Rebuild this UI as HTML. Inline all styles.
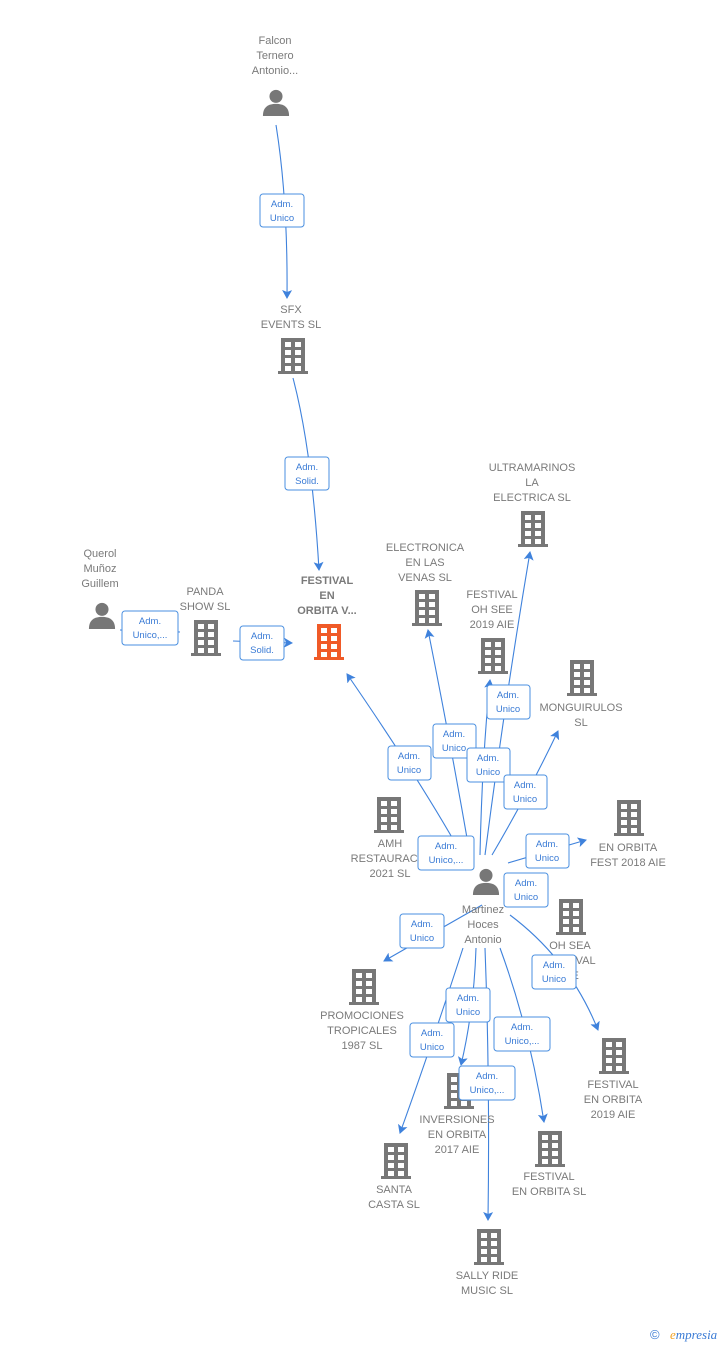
<!DOCTYPE html>
<html><head><meta charset="utf-8"><style>
html,body{margin:0;padding:0;background:#fff}
svg{display:block}
.n{font-family:"Liberation Sans",sans-serif;font-size:11px;fill:#7a7a7a;text-anchor:middle}
.b{font-weight:bold}
.l{font-family:"Liberation Sans",sans-serif;font-size:9.5px;fill:#3a7bd5;text-anchor:middle}
.e{fill:none;stroke:#3f82dc;stroke-width:1.1}
.r{fill:#fff;stroke:#4a8fe0;stroke-width:1}
</style></head><body>
<svg width="728" height="1345" viewBox="0 0 728 1345" xmlns="http://www.w3.org/2000/svg">
<defs>
<marker id="a" markerWidth="10" markerHeight="10" refX="8" refY="5" orient="auto" markerUnits="userSpaceOnUse"><path d="M0,0 L9,5 L0,10 L2,5 Z" fill="#3f82dc"/></marker>
<symbol id="bd" viewBox="0 0 30 36"><rect x="0" y="33" width="30" height="3"/><rect x="3" y="0" width="24" height="34"/><g fill="#fff"><rect x="7" y="4" width="6" height="5"/><rect x="17" y="4" width="6" height="5"/><rect x="7" y="12" width="6" height="5"/><rect x="17" y="12" width="6" height="5"/><rect x="7" y="20" width="6" height="5"/><rect x="17" y="20" width="6" height="5"/><rect x="7" y="28" width="6" height="5"/><rect x="17" y="28" width="6" height="5"/></g></symbol>
<symbol id="ps" viewBox="0 0 30 30"><circle cx="15" cy="9" r="7"/><path d="M1,30 C1,20 7,17 15,17 C23,17 29,20 29,30 Z"/></symbol>
</defs>

<!-- edges -->
<path class="e" marker-end="url(#a)" d="M276,125 Q288,200 287,298"/>
<path class="e" marker-end="url(#a)" d="M293,378 Q312,450 319,570"/>
<path class="e" d="M120,630 L180,632"/>
<path class="e" marker-end="url(#a)" d="M233,641 L292,643"/>
<path class="e" marker-end="url(#a)" d="M462,855 Q420,780 347,674"/>
<path class="e" marker-end="url(#a)" d="M470,855 Q450,740 428,630"/>
<path class="e" marker-end="url(#a)" d="M480,855 Q482,760 490,680"/>
<path class="e" marker-end="url(#a)" d="M485,855 Q505,700 530,552"/>
<path class="e" marker-end="url(#a)" d="M492,855 Q530,790 558,731"/>
<path class="e" marker-end="url(#a)" d="M508,863 L586,840"/>
<path class="e" marker-end="url(#a)" d="M482,905 L384,961"/>
<path class="e" marker-end="url(#a)" d="M510,915 Q570,960 598,1030"/>
<path class="e" marker-end="url(#a)" d="M476,948 Q474,1010 461,1065"/>
<path class="e" marker-end="url(#a)" d="M463,948 Q430,1050 400,1133"/>
<path class="e" marker-end="url(#a)" d="M500,948 Q530,1030 544,1122"/>
<path class="e" marker-end="url(#a)" d="M485,948 Q490,1080 488,1220"/>

<!-- nodes -->
<use href="#ps" x="262" y="88" width="28" height="28" fill="#777"/>
<text class="n" x="275" y="44">Falcon</text><text class="n" x="275" y="59">Ternero</text><text class="n" x="275" y="74">Antonio...</text>

<use href="#bd" x="278" y="338" width="30" height="36" fill="#777"/>
<text class="n" x="291" y="313">SFX</text><text class="n" x="291" y="328">EVENTS  SL</text>

<use href="#bd" x="314" y="624" width="30" height="36" fill="#f05a28"/>
<text class="n b" x="327" y="584">FESTIVAL</text><text class="n b" x="327" y="599">EN</text><text class="n b" x="327" y="614">ORBITA V...</text>

<use href="#ps" x="88" y="601" width="28" height="28" fill="#777"/>
<text class="n" x="100" y="557">Querol</text><text class="n" x="100" y="572">Muñoz</text><text class="n" x="100" y="587">Guillem</text>

<use href="#bd" x="191" y="620" width="30" height="36" fill="#777"/>
<text class="n" x="205" y="595">PANDA</text><text class="n" x="205" y="610">SHOW  SL</text>

<use href="#bd" x="412" y="590" width="30" height="36" fill="#777"/>
<text class="n" x="425" y="551">ELECTRONICA</text><text class="n" x="425" y="566">EN LAS</text><text class="n" x="425" y="581">VENAS  SL</text>

<use href="#bd" x="518" y="511" width="30" height="36" fill="#777"/>
<text class="n" x="532" y="471">ULTRAMARINOS</text><text class="n" x="532" y="486">LA</text><text class="n" x="532" y="501">ELECTRICA  SL</text>

<use href="#bd" x="478" y="638" width="30" height="36" fill="#777"/>
<text class="n" x="492" y="598">FESTIVAL</text><text class="n" x="492" y="613">OH SEE</text><text class="n" x="492" y="628">2019  AIE</text>

<use href="#bd" x="567" y="660" width="30" height="36" fill="#777"/>
<text class="n" x="581" y="711">MONGUIRULOS</text><text class="n" x="581" y="726">SL</text>

<use href="#bd" x="374" y="797" width="30" height="36" fill="#777"/>
<text class="n" x="390" y="847">AMH</text><text class="n" x="390" y="862">RESTAURACIO</text><text class="n" x="390" y="877">2021  SL</text>

<use href="#bd" x="614" y="800" width="30" height="36" fill="#777"/>
<text class="n" x="628" y="851">EN ORBITA</text><text class="n" x="628" y="866">FEST 2018  AIE</text>

<use href="#bd" x="556" y="899" width="30" height="36" fill="#777"/>
<text class="n" x="570" y="949">OH SEA</text><text class="n" x="570" y="964">FESTIVAL</text><text class="n" x="570" y="979">AIE</text>

<use href="#bd" x="349" y="969" width="30" height="36" fill="#777"/>
<text class="n" x="362" y="1019">PROMOCIONES</text><text class="n" x="362" y="1034">TROPICALES</text><text class="n" x="362" y="1049">1987  SL</text>

<use href="#bd" x="599" y="1038" width="30" height="36" fill="#777"/>
<text class="n" x="613" y="1088">FESTIVAL</text><text class="n" x="613" y="1103">EN ORBITA</text><text class="n" x="613" y="1118">2019  AIE</text>

<use href="#bd" x="444" y="1073" width="30" height="36" fill="#777"/>
<text class="n" x="457" y="1123">INVERSIONES</text><text class="n" x="457" y="1138">EN ORBITA</text><text class="n" x="457" y="1153">2017  AIE</text>

<use href="#bd" x="381" y="1143" width="30" height="36" fill="#777"/>
<text class="n" x="394" y="1193">SANTA</text><text class="n" x="394" y="1208">CASTA  SL</text>

<use href="#bd" x="535" y="1131" width="30" height="36" fill="#777"/>
<text class="n" x="549" y="1180">FESTIVAL</text><text class="n" x="549" y="1195">EN ORBITA  SL</text>

<use href="#bd" x="474" y="1229" width="30" height="36" fill="#777"/>
<text class="n" x="487" y="1279">SALLY RIDE</text><text class="n" x="487" y="1294">MUSIC  SL</text>

<use href="#ps" x="472" y="867" width="28" height="28" fill="#777"/>
<text class="n" x="483" y="913">Martinez</text><text class="n" x="483" y="928">Hoces</text><text class="n" x="483" y="943">Antonio</text>

<!-- labels -->
<g>
<rect class="r" x="260" y="194" width="44" height="33" rx="3"/><text class="l" x="282" y="207">Adm.</text><text class="l" x="282" y="221">Unico</text>
<rect class="r" x="285" y="457" width="44" height="33" rx="3"/><text class="l" x="307" y="470">Adm.</text><text class="l" x="307" y="484">Solid.</text>
<rect class="r" x="122" y="611" width="56" height="34" rx="3"/><text class="l" x="150" y="624">Adm.</text><text class="l" x="150" y="638">Unico,...</text>
<rect class="r" x="240" y="626" width="44" height="34" rx="3"/><text class="l" x="262" y="639">Adm.</text><text class="l" x="262" y="653">Solid.</text>
<rect class="r" x="388" y="746" width="43" height="34" rx="3"/><text class="l" x="409" y="759">Adm.</text><text class="l" x="409" y="773">Unico</text>
<rect class="r" x="433" y="724" width="43" height="34" rx="3"/><text class="l" x="454" y="737">Adm.</text><text class="l" x="454" y="751">Unico</text>
<rect class="r" x="487" y="685" width="43" height="34" rx="3"/><text class="l" x="508" y="698">Adm.</text><text class="l" x="508" y="712">Unico</text>
<rect class="r" x="467" y="748" width="43" height="34" rx="3"/><text class="l" x="488" y="761">Adm.</text><text class="l" x="488" y="775">Unico</text>
<rect class="r" x="504" y="775" width="43" height="34" rx="3"/><text class="l" x="525" y="788">Adm.</text><text class="l" x="525" y="802">Unico</text>
<rect class="r" x="418" y="836" width="56" height="34" rx="3"/><text class="l" x="446" y="849">Adm.</text><text class="l" x="446" y="863">Unico,...</text>
<rect class="r" x="526" y="834" width="43" height="34" rx="3"/><text class="l" x="547" y="847">Adm.</text><text class="l" x="547" y="861">Unico</text>
<rect class="r" x="504" y="873" width="44" height="34" rx="3"/><text class="l" x="526" y="886">Adm.</text><text class="l" x="526" y="900">Unico</text>
<rect class="r" x="400" y="914" width="44" height="34" rx="3"/><text class="l" x="422" y="927">Adm.</text><text class="l" x="422" y="941">Unico</text>
<rect class="r" x="532" y="955" width="44" height="34" rx="3"/><text class="l" x="554" y="968">Adm.</text><text class="l" x="554" y="982">Unico</text>
<rect class="r" x="446" y="988" width="44" height="34" rx="3"/><text class="l" x="468" y="1001">Adm.</text><text class="l" x="468" y="1015">Unico</text>
<rect class="r" x="410" y="1023" width="44" height="34" rx="3"/><text class="l" x="432" y="1036">Adm.</text><text class="l" x="432" y="1050">Unico</text>
<rect class="r" x="494" y="1017" width="56" height="34" rx="3"/><text class="l" x="522" y="1030">Adm.</text><text class="l" x="522" y="1044">Unico,...</text>
<rect class="r" x="459" y="1066" width="56" height="34" rx="3"/><text class="l" x="487" y="1079">Adm.</text><text class="l" x="487" y="1093">Unico,...</text>
</g>

<text x="650" y="1339" font-family="Liberation Sans,sans-serif" font-size="13" fill="#3a7bd5">©</text>
<text x="670" y="1339" font-family="Liberation Serif,serif" font-size="13" font-style="italic" fill="#3a7bd5"><tspan fill="#f0a020">e</tspan>mpresia</text>
</svg>
</body></html>
